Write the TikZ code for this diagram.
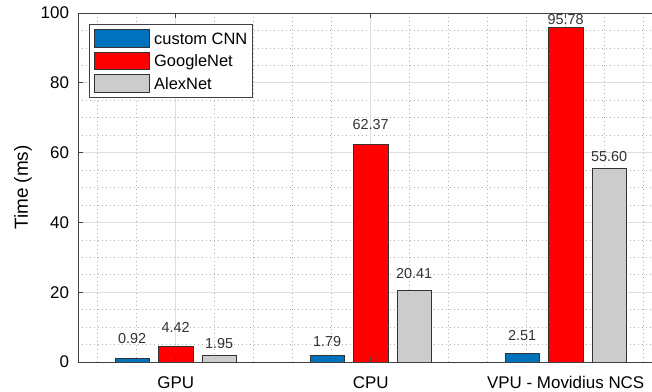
\documentclass[tikz,border=0pt]{standalone}
\usepackage{fontspec}
\setmainfont{Liberation Sans}
\usetikzlibrary{positioning}
\definecolor{cnnblue}{RGB}{0,114,189}
\definecolor{netred}{RGB}{255,0,0}
\definecolor{netgray}{RGB}{204,204,204}
\definecolor{axisgray}{RGB}{64,64,64}

\begin{document}
\begin{tikzpicture}[
  bar/.style={draw=black!80,line width=0.6bp},
  minorgrid/.style={black!30,line width=0.6bp,dash pattern=on 0.8bp off 3.2bp},
  majorgrid/.style={black!13,line width=0.8bp},
  axisline/.style={axisgray,line width=0.8bp},
  ticklabel/.style={font=\fontsize{17}{20}\selectfont,inner sep=0pt},
  valuelabel/.style={font=\fontsize{14.5}{17}\selectfont,text=black!80,inner sep=0pt},
  keybox/.style={draw=black!80,line width=0.7bp,minimum width=54.7bp,minimum height=17.5bp,inner sep=0pt},
  keytext/.style={font=\fontsize{16.5}{19}\selectfont,inner sep=0pt,text height=11.8bp,text depth=0bp}
]
\clip (0,0) rectangle (652bp,392bp);
% Timing per platform: groups at x=1,2,3, time in ms on y
\begin{scope}[shift={(-19.3bp,30bp)},x=195bp,y=3.49bp]
% grid
\foreach \x in {0.6,0.8,1.2,1.4,1.6,1.8,2.2,2.4,2.6,2.8,3.2,3.4}
  \draw[minorgrid] (\x,0) -- (\x,100);
\foreach \y in {5,10,...,95}
  \draw[minorgrid] (0.5,\y) -- (3.5,\y);
\foreach \x in {1,2,3}
  \draw[majorgrid] (\x,0) -- (\x,100);
\foreach \y in {20,40,60,80}
  \draw[majorgrid] (0.5,\y) -- (3.5,\y);
% bars and their values (custom CNN, GoogleNet, AlexNet)
\foreach \g/\va/\la/\vb/\lb/\vc/\lc in {1/0.92/6.6/4.42/9.9/1.95/5.2,
    2/1.79/5.8/62.37/68.0/20.41/25.4, 3/2.51/7.5/95.78/98.0/55.60/59.0}{
  \draw[bar,fill=cnnblue] (\g-0.312,0) rectangle (\g-0.134,\va);
  \draw[bar,fill=netred] (\g-0.089,0) rectangle (\g+0.089,\vb);
  \draw[bar,fill=netgray] (\g+0.134,0) rectangle (\g+0.312,\vc);
  \node[valuelabel] (val-\g-cnn) at (\g-0.223,\la) {\va};
  \node[valuelabel] (val-\g-google) at (\g,\lb) {\vb};
  \node[valuelabel] (val-\g-alex) at (\g+0.223,\lc) {\vc};
}
% axes box and ticks
\draw[axisline] (0.5,100) -- (0.5,0) -- (3.5,0);
\draw[axisline] (0.5,100) -- (3.5,100);
\foreach \y in {0,20,...,100}{
  \draw[axisline] (0.5,\y) -- ++(5bp,0);
  \node[ticklabel,anchor=east] (ytick-\y) at ([xshift=-9bp]0.5,\y) {\y};
}
\foreach \g/\name in {1/GPU,2/CPU,3/VPU - Movidius NCS}{
  \draw[axisline] (\g,0) -- ++(0,5bp);
  \draw[axisline] (\g,100) -- ++(0,-5bp);
  \node[ticklabel,anchor=base] (xtick-\g) at ([yshift=-26bp]\g,0) {\name};
}
\node[font=\fontsize{19}{22}\selectfont,rotate=90,inner sep=0pt] (ylabel) at (0.217,50) {Time (ms)};
\end{scope}
% legend
\node[draw=axisgray,line width=0.8bp,fill=white,minimum width=163.3bp,minimum height=72.7bp,
  inner sep=0pt,anchor=north west] (legend) at (89bp,368bp) {};
\node[keybox,fill=cnnblue,anchor=north west] (key-cnn) at ([shift={(5bp,-5.3bp)}]legend.north west) {};
\node[keybox,fill=netred,below=4.3bp of key-cnn] (key-google) {};
\node[keybox,fill=netgray,below=4.3bp of key-google] (key-alex) {};
\node[keytext,right=4.6bp of key-cnn] (txt-cnn) {custom CNN};
\node[keytext,right=4.6bp of key-google] (txt-google) {GoogleNet};
\node[keytext,right=4.6bp of key-alex] (txt-alex) {AlexNet};
\end{tikzpicture}
\end{document}
